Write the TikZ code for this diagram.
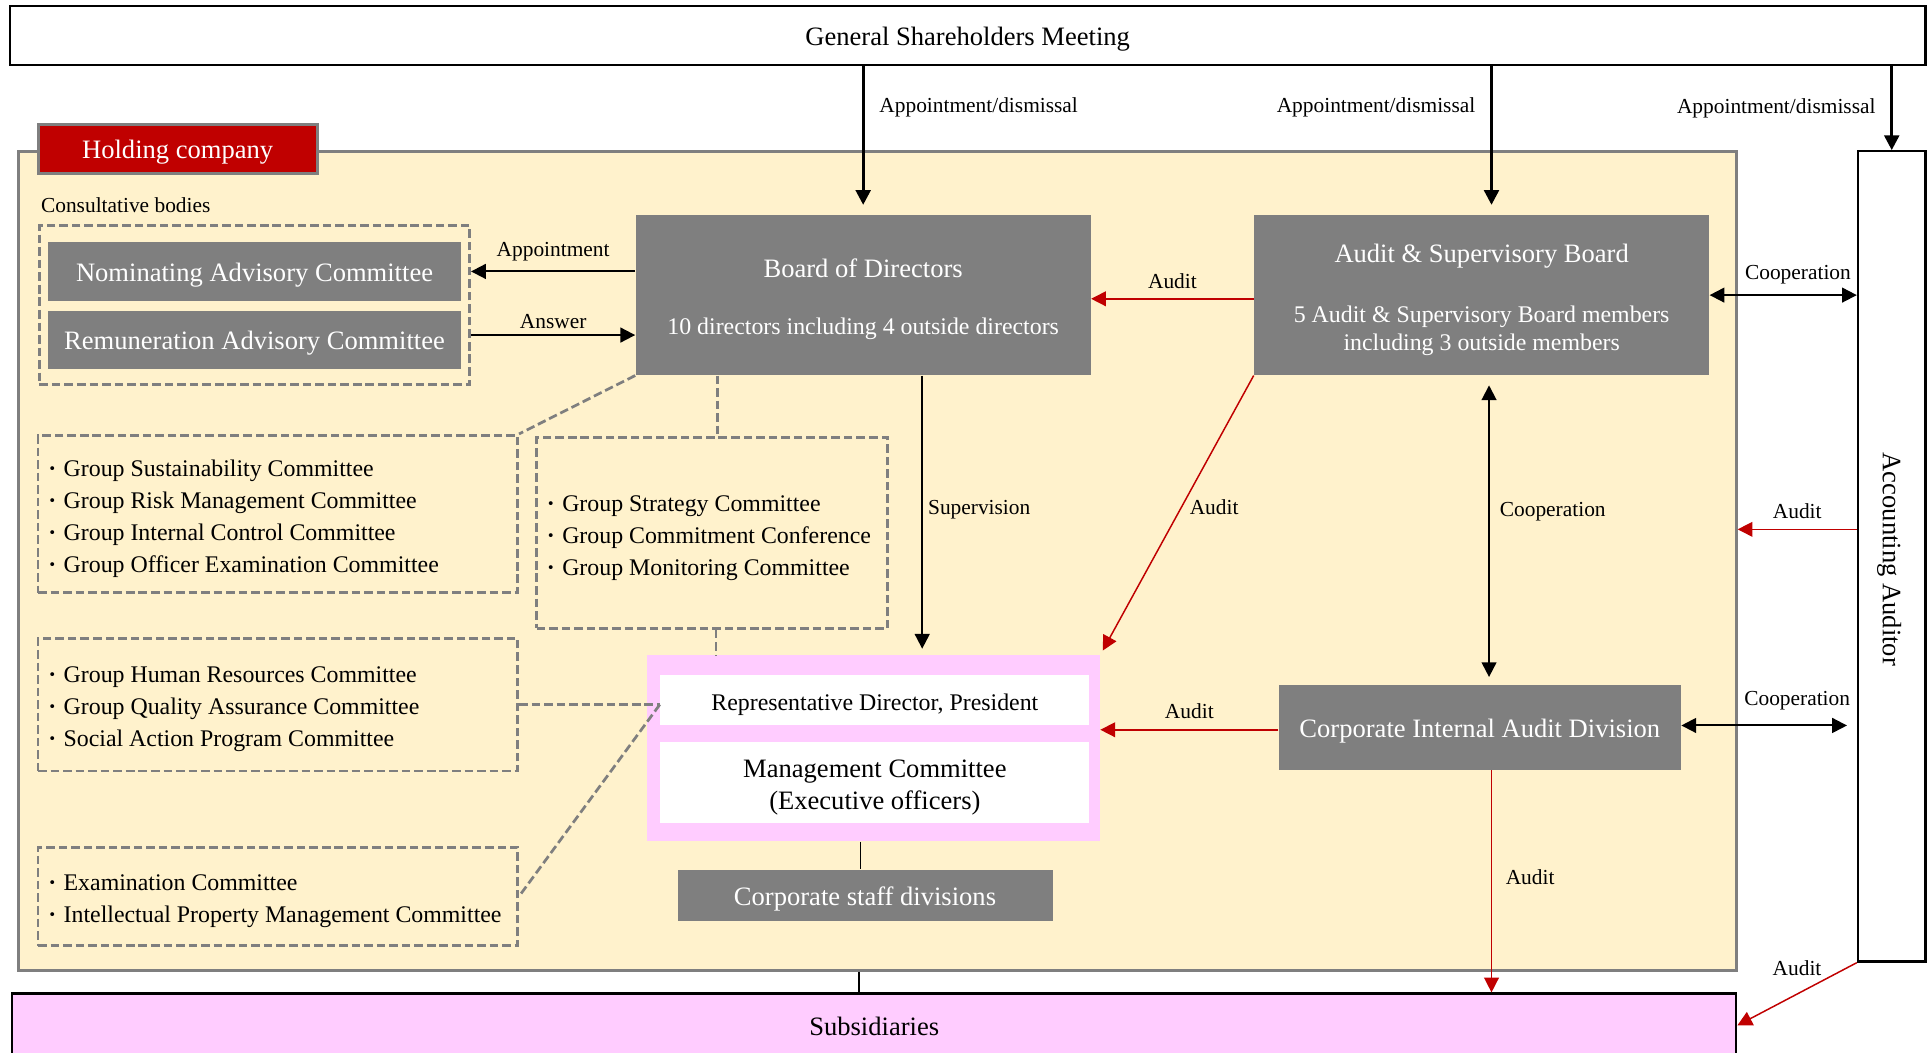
\documentclass[tikz,border=0pt]{standalone}
\usepackage{fontspec}
\setmainfont{Liberation Serif}
\usetikzlibrary{arrows.meta}
\definecolor{boxgray}{HTML}{7F7F7F}
\definecolor{cream}{HTML}{FFF2CC}
\definecolor{pinkfill}{HTML}{FFCCFF}
\definecolor{auditred}{HTML}{C00000}
\newcommand\boxfont{\fontsize{10.8pt}{13pt}\selectfont}
\newcommand\itemfont{\fontsize{9.7pt}{13pt}\selectfont}
\newcommand\lblfont{\fontsize{8.7pt}{10pt}\selectfont}
\newcommand\itm{\textbf{·}\hspace{3pt}}
\newcommand\topstrut[1]{\rule{0pt}{#1}}
\begin{document}
\begin{tikzpicture}[x=0.5pt,y=-0.5pt,
  oneline/.style={text height=8pt,text depth=0pt},
  plainbox/.style={draw=black,fill=white,line width=0.9pt,inner sep=0,font=\boxfont},
  graybox/.style={fill=boxgray,text=white,inner sep=0,align=center,font=\boxfont},
  whitebox/.style={fill=white,inner sep=0,align=center},
  dashline/.style={draw=boxgray,line width=1.1pt,dash pattern=on 3.5pt off 1.6pt},
  itemtext/.style={anchor=west,inner sep=0,align=left,font=\itemfont},
  lbl/.style={font=\lblfont,inner sep=1pt},
  arr/.style={-{Triangle[length=6pt,width=6pt]},line width=0.8pt},
  thickarr/.style={arr,line width=1.2pt},
  dblarr/.style={{Triangle[length=6pt,width=6pt]}-{Triangle[length=6pt,width=6pt]},line width=0.8pt},
  redarr/.style={arr,draw=auditred,line width=0.6pt}]
\useasboundingbox (0,0) rectangle (1568,856);
\node[draw=boxgray,line width=1.2pt,fill=cream,minimum width=698.5pt,minimum height=333pt,inner sep=0] (holding) at (713.5,456) {};
\node[draw=boxgray,line width=1.2pt,fill=auditred,text=white,minimum width=113.5pt,minimum height=20pt,inner sep=0,font=\boxfont,oneline] (hclabel) at (144.5,121) {Holding company};
\node[plainbox,oneline,minimum width=779pt,minimum height=24pt] (gsm) at (787,29) {General Shareholders Meeting};
\node[plainbox,oneline,fill=pinkfill,minimum width=701pt,minimum height=26pt] (subs) at (711,834) {Subsidiaries};
\node[plainbox,minimum width=27.5pt,minimum height=329.5pt] (aa) at (1538.5,452.5) {};
\node[rotate=-90,font=\boxfont] (aatext) at ([xshift=-1pt,yshift=-1.2pt]aa.center) {Accounting Auditor};
\node[lbl,anchor=west] (cbtitle) at (31,167) {Consultative bodies};
\node[dashline,minimum width=175pt,minimum height=64.5pt] (cbox) at (207,248) {};
\node[graybox,oneline,minimum width=168pt,minimum height=23.75pt] (nac) at (207,220.75) {Nominating Advisory Committee};
\node[graybox,oneline,minimum width=168pt,minimum height=23.5pt] (rac) at (207,276.5) {Remuneration Advisory Committee};
\node[graybox,minimum width=185pt,minimum height=65pt] (bod) at (702,240) {\topstrut{10.9pt}Board of Directors\\[10.5pt]{\itemfont 10 directors including 4 outside directors}};
\node[graybox,minimum width=185pt,minimum height=65pt] (asb) at (1205,240) {\topstrut{11.4pt}Audit \& Supervisory Board\\[11.5pt]{\itemfont 5 Audit \& Supervisory Board members}\\[-1.5pt]{\itemfont including 3 outside members}};
\node[graybox,oneline,minimum width=163.5pt,minimum height=34.5pt] (ciad) at (1203.5,591.5) {Corporate Internal Audit Division};
\node[fill=pinkfill,minimum width=184.25pt,minimum height=75.5pt,inner sep=0] (exec) at (710.25,608.5) {};
\node[whitebox,oneline,minimum width=174.5pt,minimum height=20.5pt,font=\itemfont] (rep) at (711.5,569.5) {Representative Director, President};
\node[whitebox,minimum width=174.5pt,minimum height=32.75pt,font=\boxfont] (mc) at (711.5,636.25) {\topstrut{11.4pt}Management Committee\\(Executive officers)};
\node[graybox,oneline,minimum width=152.5pt,minimum height=20.75pt] (csd) at (703.5,728.25) {Corporate staff divisions};
\node[dashline,minimum width=195pt,minimum height=64pt] (gcA) at (226,418) {};
\node[itemtext] (gcAtext) at ([xshift=4.5pt,yshift=-2pt]gcA.west) {\itm Group Sustainability Committee\\\itm Group Risk Management Committee\\\itm Group Internal Control Committee\\\itm Group Officer Examination Committee};
\node[dashline,minimum width=142.75pt,minimum height=77.5pt] (gcB) at (579.25,433.5) {};
\node[itemtext] (gcBtext) at ([xshift=4.5pt,yshift=-2pt]gcB.west) {\itm Group Strategy Committee\\\itm Group Commitment Conference\\\itm Group Monitoring Committee};
\node[dashline,minimum width=195pt,minimum height=54pt] (gcC) at (226,573) {};
\node[itemtext] (gcCtext) at ([xshift=4.5pt,yshift=-2pt]gcC.west) {\itm Group Human Resources Committee\\\itm Group Quality Assurance Committee\\\itm Social Action Program Committee};
\node[dashline,minimum width=195pt,minimum height=40pt] (gcD) at (226,729) {};
\node[itemtext] (gcDtext) at ([xshift=4.5pt,yshift=-2pt]gcD.west) {\itm Examination Committee\\\itm Intellectual Property Management Committee};
\draw[thickarr,shorten >=4pt] (bod.north |- gsm.south) -- (bod.north) node[lbl,pos=0.28,right=5pt] {Appointment/dismissal};
\draw[thickarr,shorten >=4pt] ([xshift=4pt]asb.north |- gsm.south) -- ([xshift=4pt]asb.north) node[lbl,pos=0.28,left=5pt] {Appointment/dismissal};
\draw[thickarr] (aa.north |- gsm.south) -- (aa.north) node[lbl,pos=0.5,left=5pt] {Appointment/dismissal};
\draw[arr] (bod.west |- nac.east) -- (cbox.east |- nac.east) node[lbl,midway,above=3pt] {Appointment};
\draw[arr] ([yshift=2pt]rac.east -| cbox.east) -- ([yshift=2pt]rac.east -| bod.west) node[lbl,midway,above=1pt] {Answer};
\draw[redarr] ([yshift=-1.5pt]asb.west) -- ([yshift=-1.5pt]asb.west -| bod.east) node[lbl,midway,above=3pt] {Audit};
\draw[dblarr] (asb.east) -- (asb.east -| aa.west) node[lbl,pos=0.6,above=3pt] {Cooperation};
\draw[arr,shorten >=2.5pt] ([xshift=24pt]bod.south) -- ([xshift=24pt]bod.south |- exec.north) node[lbl,pos=0.48,right=1pt] {Supervision};
\draw[redarr,shorten >=2pt] (asb.south west) -- (exec.north east) node[lbl,pos=0.47,right=2pt] {Audit};
\draw[dblarr,shorten <=4pt,shorten >=3pt] ([xshift=3pt]asb.south) -- ([xshift=3pt]asb.south |- ciad.north) node[lbl,pos=0.44,right=3pt] {Cooperation};
\draw[redarr] ([yshift=-1pt]ciad.west) -- ([yshift=-1pt]ciad.west -| exec.east) node[lbl,midway,above=3pt] {Audit};
\draw[dblarr,shorten >=4pt] ([yshift=0.75pt]ciad.east) -- ([yshift=0.75pt]ciad.east -| aa.west) node[lbl,pos=0.66,above=5pt] {Cooperation};
\draw[redarr] ([yshift=11pt]aa.west) -- ([yshift=11pt]aa.west -| holding.east) node[lbl,midway,above=3pt] {Audit};
\draw[redarr] ([xshift=4.75pt]ciad.south) -- ([xshift=4.75pt]ciad.south |- subs.north) node[lbl,pos=0.48,right=4.5pt] {Audit};
\draw[redarr] (aa.south west) -- (subs.east) node[lbl,midway,above=6pt] {Audit};
\draw[line width=0.6pt] ([xshift=-1.75pt]csd.north |- exec.south) -- ([xshift=-1.75pt]csd.north);
\draw[line width=0.6pt] ([xshift=-2.5pt]csd.north |- holding.south) -- ([xshift=-2.5pt]csd.north |- subs.north);
\draw[dashline] (bod.south west) -- (gcA.north east);
\draw[dashline] ([xshift=2pt]gcB.north |- bod.south) -- ([xshift=2pt]gcB.north);
\draw[dashline] ([xshift=1.5pt]gcB.south) -- ([xshift=1.5pt]gcB.south |- exec.north);
\draw[dashline] (gcC.east) -- (gcC.east -| rep.west);
\draw[dashline] (gcC.east -| rep.west) -- (gcD.east);
\end{tikzpicture}
\end{document}
